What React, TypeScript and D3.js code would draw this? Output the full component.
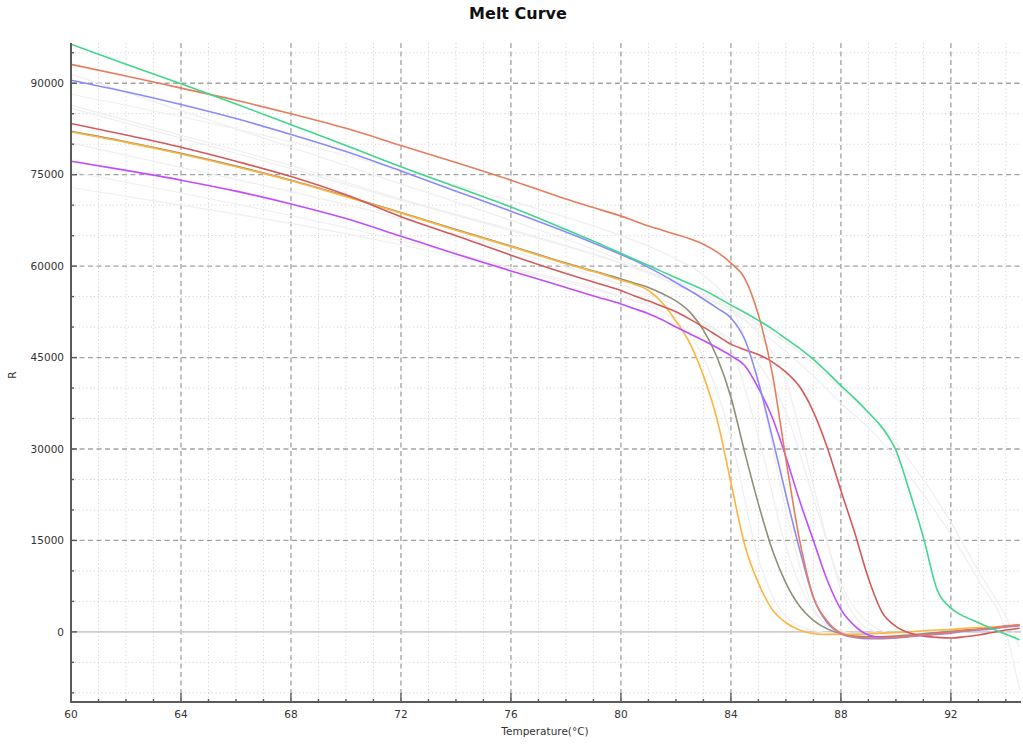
import React from 'react';
import * as d3 from 'd3';

// ---------- data ----------
const temps = [60, 62, 64, 66, 68, 70, 72, 74, 76, 78, 79, 80, 80.5, 81, 81.5, 82, 82.5, 83, 83.5, 84, 84.5, 85, 85.5, 86, 86.5, 87, 87.5, 88, 88.5, 89, 89.5, 90, 90.5, 91, 91.5, 92, 92.5, 93, 93.5, 94, 94.5];

const greenVals = [96400, 93100, 89900, 86600, 83200, 79800, 76300, 73000, 69700, 66000, 64100, 62100, 61100, 60100, 59100, 58100, 57100, 56100, 54900, 53600, 52400, 51100, 49700, 48100, 46500, 44700, 42600, 40400, 38300, 36000, 33500, 29800, 23000, 15500, 6900, 3900, 2500, 1500, 500, -400, -1300];
const orangeVals = [93100, 91200, 89200, 87200, 85000, 82600, 79800, 77000, 74100, 71000, 69600, 68200, 67400, 66600, 65900, 65200, 64500, 63600, 62300, 60500, 58000, 52000, 42500, 28300, 15000, 5700, 1800, -200, -800, -1000, -1000, -900, -700, -500, -300, -100, 200, 400, 600, 900, 1100];
const blueVals = [90500, 88600, 86500, 84200, 81600, 78800, 75600, 72300, 69000, 65600, 63800, 61900, 60900, 59800, 58600, 57300, 56000, 54600, 53100, 51500, 48000, 41000, 32000, 22500, 13500, 5600, 1500, -300, -900, -1100, -1100, -1000, -800, -600, -400, -200, 100, 300, 500, 800, 1000];
const redVals = [83400, 81500, 79500, 77200, 74700, 71700, 68100, 65000, 61800, 58800, 57400, 56000, 55100, 54300, 53400, 52500, 51300, 50000, 48600, 47200, 46300, 45500, 44300, 42600, 40200, 36100, 30300, 23200, 16300, 8800, 3200, 900, -200, -700, -900, -1000, -800, -500, -100, 300, 600];
const yellowVals = [82000, 80300, 78400, 76300, 74000, 71400, 68700, 65900, 63200, 60400, 59100, 57700, 57000, 56000, 54000, 51000, 47400, 42000, 34800, 24500, 14300, 8000, 3700, 1500, 300, -300, -400, -400, -400, -300, -200, -100, 0, 200, 300, 400, 600, 700, 800, 1000, 1200];
const grayVals = [82100, 80400, 78500, 76400, 74100, 71500, 68800, 66000, 63300, 60500, 59200, 57900, 57200, 56500, 55500, 54300, 52500, 49500, 45000, 38500, 29500, 21000, 13500, 8000, 4200, 1900, 500, -300, -700, -800, -800, -700, -500, -300, -100, 100, 300, 500, 700, 900, 1100];
const purpleVals = [77200, 75700, 74100, 72300, 70200, 67800, 64900, 62000, 59200, 56500, 55100, 53800, 53000, 52200, 51200, 50000, 48900, 47800, 46600, 45300, 43700, 40000, 35200, 28700, 21500, 15000, 8500, 3700, 1000, -500, -900, -900, -700, -500, -300, -100, 200, 400, 600, 900, 1100];

const series = [
  { name: 'S1', color: '#8f8f7a', values: grayVals },
  { name: 'S2', color: '#ffb43c', values: yellowVals },
  { name: 'S3', color: '#d45a5a', values: redVals },
  { name: 'S4', color: '#c04cff', values: purpleVals },
  { name: 'S5', color: '#8a8aff', values: blueVals },
  { name: 'S6', color: '#e67c5c', values: orangeVals },
  { name: 'S7', color: '#40d68c', values: greenVals },
];

// faint background samples
const faintTemps = [60, 64, 68, 72, 76, 80, 82, 83, 84, 85, 86, 87, 88, 89, 90, 91, 92, 93, 94, 94.5];
const faintA = [88200, 84500, 80400, 75800, 70700, 65000, 61200, 58500, 53500, 41000, 20000, 4000, -300, -900, -800, -500, -100, 300, 700, 900];
const faintB = [91500, 85500, 79500, 73500, 67500, 61000, 57000, 55000, 52500, 49500, 46000, 42000, 37500, 33500, 28500, 22500, 16000, 8500, 0, -9500];
const faintC = [86400, 81500, 76500, 71000, 66000, 60500, 57000, 55000, 53000, 50500, 47500, 44000, 40000, 36000, 31000, 25000, 18000, 10000, 2500, -2500];
const faintD = [85900, 81000, 76000, 70800, 65800, 60500, 57500, 55500, 53000, 49000, 41000, 24000, 7000, 500, -600, -400, 0, 400, 800, 1000];
const faintE = [80200, 76200, 72200, 67800, 62500, 57000, 53500, 51000, 46500, 32000, 14000, 3500, 200, -600, -500, -300, 0, 400, 700, 900];
const faintF = [75500, 72000, 68300, 64200, 59800, 55000, 51000, 45000, 32000, 12000, 2500, 200, -300, -300, -200, 0, 200, 500, 800, 900];
const faintG = [72900, 70000, 67000, 63500, 59500, 55000, 52500, 50500, 48000, 44000, 36000, 22000, 8000, 1500, -300, -200, 100, 400, 700, 900];
const faintSeries = [faintA, faintB, faintC, faintD, faintE, faintF, faintG];

const xMajorTicks = [60, 64, 68, 72, 76, 80, 84, 88, 92];
const yMajorTicks = [0, 15000, 30000, 45000, 60000, 75000, 90000];

const title = 'Melt Curve';
const xTitle = 'Temperature(°C)';
const yTitle = 'R';

// ---------- layout ----------
const W = 1023;
const H = 747;
const plotLeft = 71;
const plotRight = 1021;
const plotTop = 43;
const plotBottom = 702;

export default function App() {
  const x = d3.scaleLinear().domain([60, 94.55]).range([plotLeft, plotRight]);
  const y = d3.scaleLinear().domain([-11500, 96600]).range([plotBottom, plotTop]);

  const xMinor = d3.range(61, 95, 1).filter((t) => t % 4 !== 0);
  const yMinor = d3.range(-10000, 96000, 5000).filter((v) => v % 15000 !== 0);
  const xAllTicks = d3.range(60, 95, 1);
  const yAllTicks = d3.range(-10000, 96000, 5000);

  const line = d3
    .line<[number, number]>()
    .x((d) => x(d[0]))
    .y((d) => y(d[1]))
    .curve(d3.curveMonotoneX);

  const font = '"DejaVu Sans", Verdana, sans-serif';

  return (
    <svg width={W} height={H} style={{ position: 'absolute', left: 0, top: 0, background: '#fff' }}>
      <defs>
        <clipPath id="plotClip">
          <rect x={plotLeft} y={plotTop} width={plotRight - plotLeft} height={plotBottom - plotTop} />
        </clipPath>
      </defs>

      {/* minor grid */}
      <g stroke="#d4d4d4" strokeWidth={1} strokeDasharray="1.2,2.6">
        {xMinor.map((t) => (
          <line key={'xm' + t} x1={x(t)} x2={x(t)} y1={plotTop} y2={plotBottom} />
        ))}
        {yMinor.map((v) => (
          <line key={'ym' + v} x1={plotLeft} x2={plotRight} y1={y(v)} y2={y(v)} />
        ))}
      </g>
      {/* major grid */}
      <g stroke="#a2a2a2" strokeWidth={1.3} strokeDasharray="5,3.5">
        {xMajorTicks.filter((t) => t !== 60).map((t) => (
          <line key={'xM' + t} x1={x(t)} x2={x(t)} y1={plotTop} y2={plotBottom} />
        ))}
        {yMajorTicks.filter((v) => v !== 0).map((v) => (
          <line key={'yM' + v} x1={plotLeft} x2={plotRight} y1={y(v)} y2={y(v)} />
        ))}
      </g>
      <line x1={plotLeft} x2={plotRight} y1={y(0)} y2={y(0)} stroke="#cdcdcd" strokeWidth={1.6} />

      {/* faint curves */}
      <g clipPath="url(#plotClip)" fill="none" stroke="#efefef" strokeWidth={1.2}>
        {faintSeries.map((vals, i) => (
          <path key={'f' + i} d={line(faintTemps.map((t, j) => [t, vals[j]] as [number, number])) || ''} />
        ))}
      </g>

      {/* colored curves */}
      <g clipPath="url(#plotClip)" fill="none" strokeWidth={1.6}>
        {series.map((s) => (
          <path key={s.name} stroke={s.color} d={line(temps.map((t, j) => [t, s.values[j]] as [number, number])) || ''} />
        ))}
      </g>

      {/* axes */}
      <g stroke="#5a5a5a">
        <line x1={plotLeft} x2={plotLeft} y1={plotTop} y2={plotBottom + 1} strokeWidth={2} />
        <line x1={plotLeft - 1} x2={plotRight} y1={plotBottom} y2={plotBottom} strokeWidth={2} />
        {yAllTicks.map((v) => (
          <line key={'yt' + v} x1={plotLeft} x2={plotLeft + (v % 15000 === 0 ? 6 : 3)} y1={y(v)} y2={y(v)} strokeWidth={1.4} />
        ))}
        {xAllTicks.map((t) => (
          <line key={'xt' + t} x1={x(t)} x2={x(t)} y1={plotBottom} y2={plotBottom - (t % 4 === 0 ? 9 : 3)} strokeWidth={1.4} />
        ))}
      </g>

      {/* tick labels */}
      <g fontFamily={font} fontSize={10.5} fill="#333">
        {yMajorTicks.map((v) => (
          <text key={'yl' + v} x={plotLeft - 7} y={y(v)} dy="0.36em" textAnchor="end">
            {v}
          </text>
        ))}
        {xMajorTicks.map((t) => (
          <text key={'xl' + t} x={x(t)} y={plotBottom + 16} textAnchor="middle">
            {t}
          </text>
        ))}
      </g>

      {/* titles */}
      <text x={518} y={19} textAnchor="middle" fontFamily={font} fontWeight="bold" fontSize={16} fill="#111">
        {title}
      </text>
      <text x={545} y={735} textAnchor="middle" fontFamily={font} fontSize={10.5} fill="#333">
        {xTitle}
      </text>
      <text transform={`translate(16,375) rotate(-90)`} textAnchor="middle" fontFamily={font} fontSize={10.5} fill="#333">
        {yTitle}
      </text>
    </svg>
  );
}
